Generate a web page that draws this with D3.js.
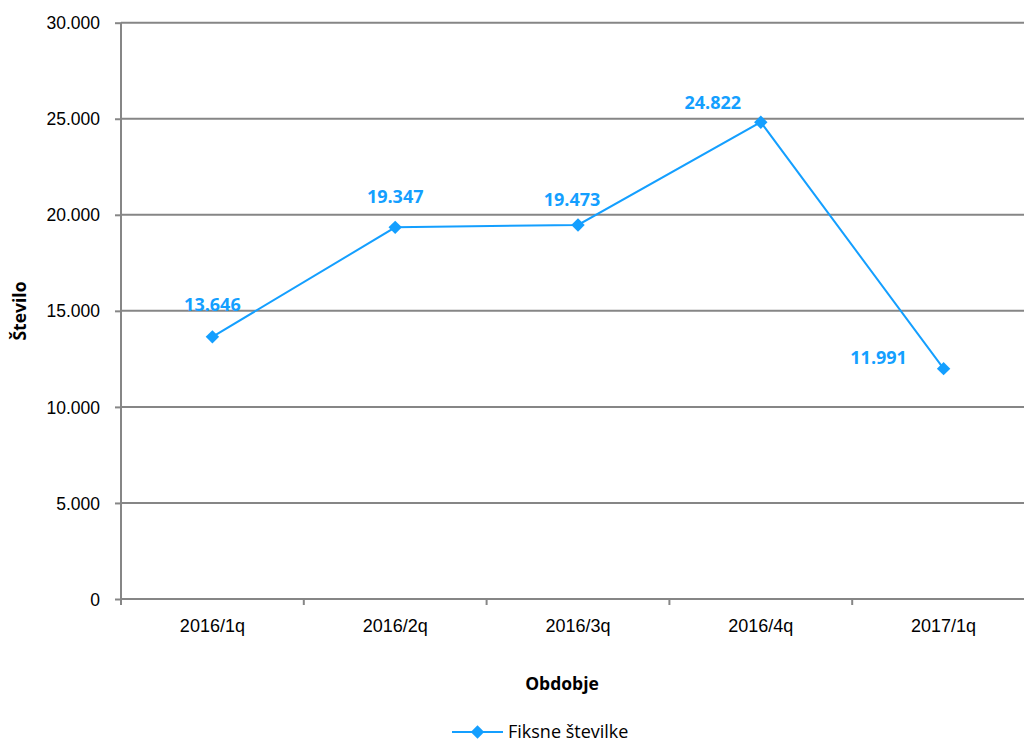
<!DOCTYPE html>
<html><head><meta charset="utf-8">
<script src="https://cdn.jsdelivr.net/npm/d3@7/dist/d3.min.js"></script>
<style>body{margin:0;background:#fff}svg{display:block;font-family:"Open Sans","Liberation Sans",sans-serif}</style>
</head><body>
<script>
const categories = ["2016/1q","2016/2q","2016/3q","2016/4q","2017/1q"];
const values = [13646, 19347, 19473, 24822, 11991];
const yTicks = [0, 5000, 10000, 15000, 20000, 25000, 30000];
const seriesName = "Fiksne številke";
const xTitle = "Obdobje";
const yTitle = "Število";
// label placement offsets (dx, dy) relative to the point
const labelOffsets = [[0,-32],[0,-31],[-6,-25],[-48,-19],[-65,-11]];

const W = 1024, H = 742;
const m = {left:121, right:1035, top:22.7, bottom:599};
const color = "#149fff", grid = "#868686";
const fmt = v => d3.format(",")(v).replace(/,/g, ".");

const svg = d3.select("body").append("svg").attr("width", W).attr("height", H);
const x = d3.scaleBand().domain(categories).range([m.left, m.right]);
const y = d3.scaleLinear().domain([0, 30000]).range([m.bottom, m.top]);

// gridlines
svg.append("g").selectAll("line").data(yTicks.filter(d=>d>0)).join("line")
  .attr("x1", m.left).attr("x2", m.right).attr("y1", d=>y(d)).attr("y2", d=>y(d))
  .attr("stroke", grid).attr("stroke-width", 2);

// y axis
const ya = svg.append("g").attr("transform", `translate(${m.left},0)`)
  .call(d3.axisLeft(y).tickValues(yTicks).tickFormat(fmt).tickSize(6).tickPadding(15));
ya.select(".domain").attr("stroke", grid).attr("stroke-width", 2).attr("d", `M0,${m.top}V${m.bottom}`);
ya.selectAll(".tick line").attr("stroke", grid).attr("stroke-width", 2);
ya.selectAll(".tick text").attr("font-size", 17.5).attr("fill", "#000").attr("dy", "0.35em");

// x axis
const xa = svg.append("g").attr("transform", `translate(0,${m.bottom})`)
  .call(d3.axisBottom(x).tickSize(0).tickPadding(20));
xa.select(".domain").attr("stroke", grid).attr("stroke-width", 2).attr("d", `M${m.left},0H${m.right}`);
xa.selectAll(".tick text").attr("font-size", 18).attr("fill", "#000");
const bounds = categories.map(c => x(c)).concat([m.right]);
xa.append("g").selectAll("line").data(bounds).join("line")
  .attr("x1", d=>d).attr("x2", d=>d).attr("y1", 0).attr("y2", 6)
  .attr("stroke", grid).attr("stroke-width", 2);

const cx = c => x(c) + x.bandwidth()/2;

// line
svg.append("path").datum(values)
  .attr("d", d3.line().x((d,i)=>cx(categories[i])).y(d=>y(d)))
  .attr("fill", "none").attr("stroke", color).attr("stroke-width", 2);

const diamond = d3.symbol().type(d3.symbolSquare).size(90);
svg.append("g").selectAll("path").data(values).join("path")
  .attr("d", diamond)
  .attr("transform", (d,i)=>`translate(${cx(categories[i])},${y(d)}) rotate(45)`)
  .attr("fill", color);

// labels
svg.append("g").selectAll("text").data(values).join("text")
  .attr("x", (d,i)=>cx(categories[i]) + labelOffsets[i][0])
  .attr("y", (d,i)=>y(d) + labelOffsets[i][1])
  .attr("dy", "0.35em").attr("text-anchor", "middle")
  .attr("font-size", 18).attr("font-weight", "bold").attr("fill", color)
  .text(d=>fmt(d));

// axis titles
svg.append("text").attr("x", 562).attr("y", 690).attr("text-anchor", "middle")
  .attr("font-size", 17.5).attr("font-weight", "bold").text(xTitle);
svg.append("text").attr("transform", "translate(26,311) rotate(-90)").attr("text-anchor", "middle")
  .attr("font-size", 17.5).attr("font-weight", "bold").text(yTitle);

// legend
const lg = svg.append("g").attr("transform", "translate(452,732)");
lg.append("line").attr("x1", 0).attr("x2", 51).attr("stroke", color).attr("stroke-width", 2);
lg.append("path").attr("d", diamond).attr("transform", "translate(25.5,0) rotate(45)").attr("fill", color);
lg.append("text").attr("x", 56).attr("dy", "0.35em").attr("font-size", 18).text(seriesName);
</script>
</body></html>
